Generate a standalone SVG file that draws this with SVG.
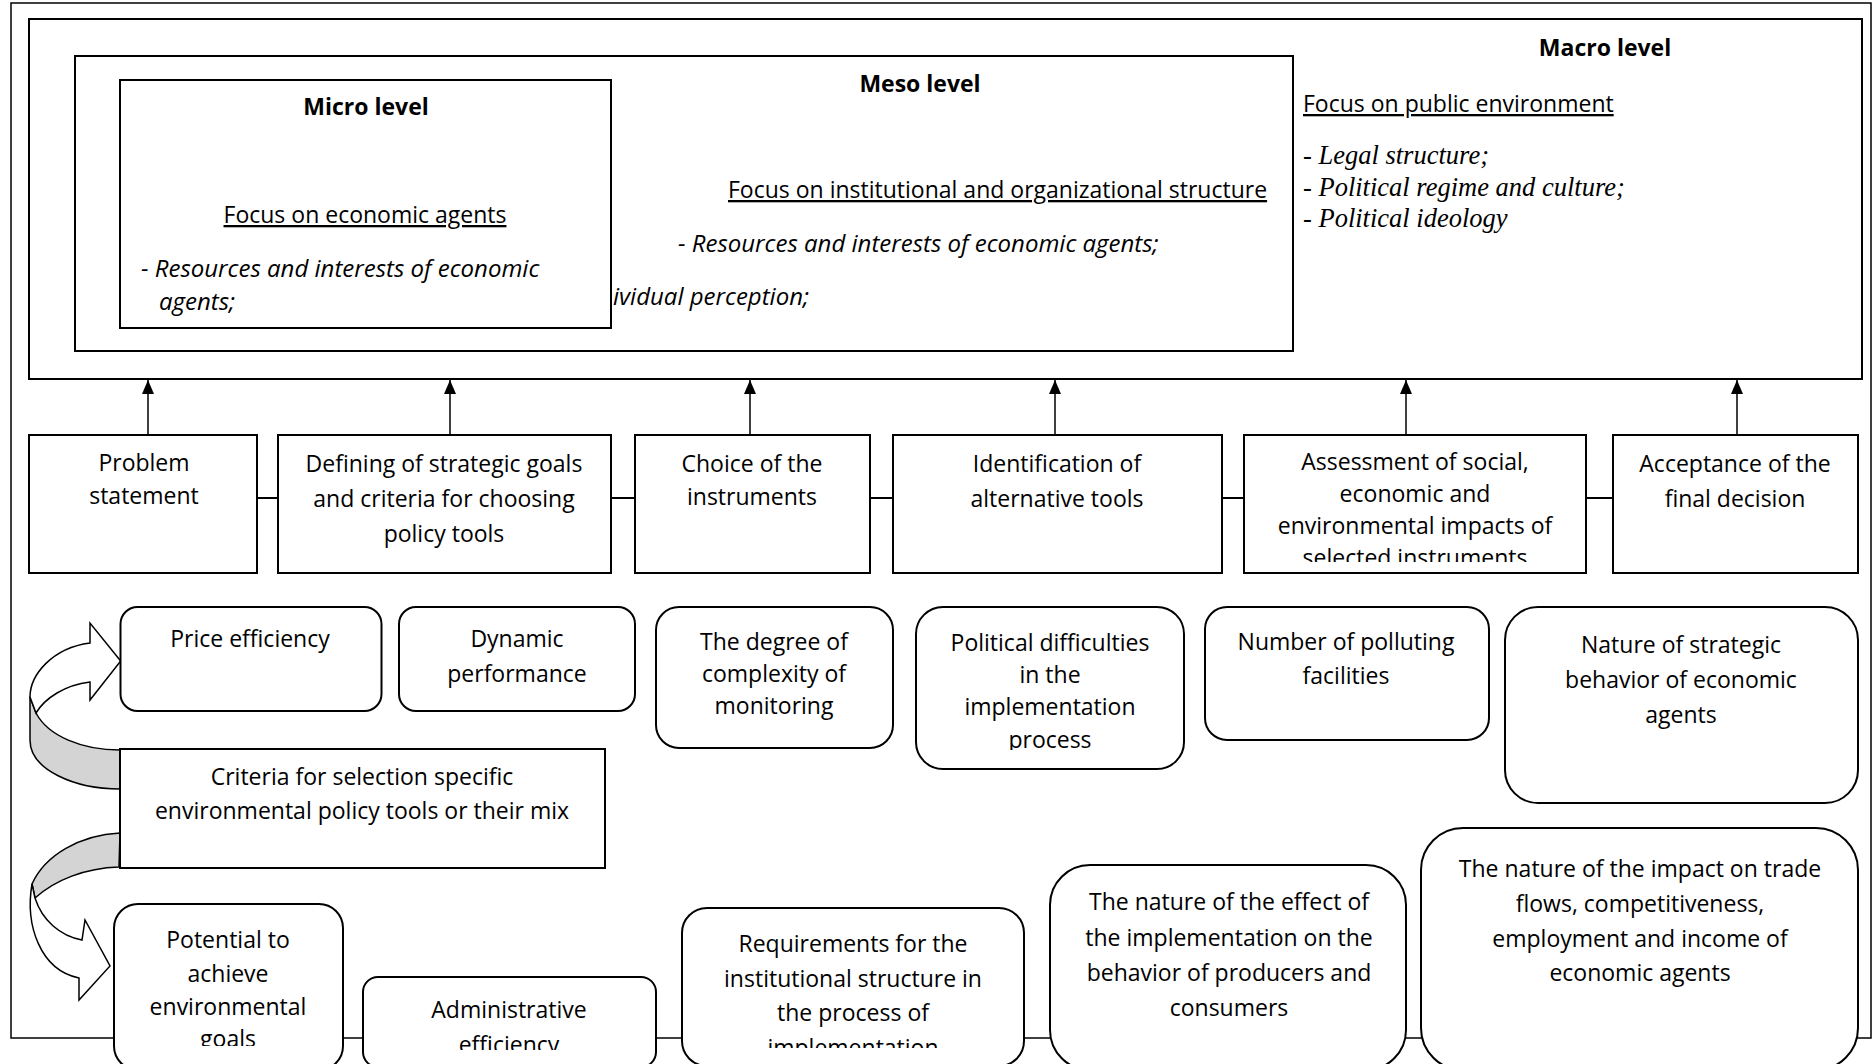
<svg xmlns="http://www.w3.org/2000/svg" width="1874" height="1064" viewBox="0 0 1874 1064">
<defs>
<style>
.frame{fill:none;stroke:#000;stroke-width:1.5}
.box{fill:#fff;stroke:#000;stroke-width:2}
.ln{stroke:#000;stroke-width:2;fill:none}
.ar{stroke:#000;stroke-width:1.5;fill:none}
.t{font-family:"Open Sans","Liberation Sans",sans-serif;font-size:23px;fill:#000;text-anchor:middle}
.l{text-anchor:start}
.b{font-weight:bold}
.i{font-style:italic;font-size:24px}
.u{text-decoration:underline}
.s{font-family:"Liberation Serif","Times New Roman",serif;font-size:26.5px;font-style:italic;fill:#000}
.back{fill:#d4d4d4;stroke:#000;stroke-width:1.5;stroke-linejoin:round}
.front{fill:#fff;stroke:#000;stroke-width:1.5;stroke-linejoin:miter}
</style>
<marker id="ah" markerUnits="userSpaceOnUse" viewBox="0 0 14 12" markerWidth="14" markerHeight="12" refX="14" refY="6" orient="auto">
<path d="M0,0 L14,6 L0,12 Z" fill="#000"/>
</marker>
<clipPath id="clip-assess"><rect x="1244" y="435" width="342" height="127"/></clipPath>
<clipPath id="clip-polit"><rect x="916" y="607" width="268" height="143"/></clipPath>
<clipPath id="clip-potential"><rect x="114" y="904" width="229" height="142"/></clipPath>
<clipPath id="clip-admin"><rect x="363" y="977" width="293" height="73"/></clipPath>
<clipPath id="clip-req"><rect x="682" y="908" width="342" height="140"/></clipPath>
</defs>

<rect width="1874" height="1064" fill="#fff"/>

<g id="outer-frame">
<rect class="frame" x="11" y="3" width="1860" height="1035"/>
</g>

<g id="macro-level">
<rect class="box" x="29" y="19" width="1833" height="360"/>
<text class="t b" x="1605" y="56">Macro level</text>
<text class="t l u" x="1303" y="112">Focus on public environment</text>
<text class="s" x="1303" y="164">- Legal structure;</text>
<text class="s" x="1303" y="196">- Political regime and culture;</text>
<text class="s" x="1303" y="227">- Political ideology</text>
</g>

<g id="meso-level">
<rect class="box" x="75" y="56" width="1218" height="295"/>
<text class="t b" x="920" y="92">Meso level</text>
<text class="t l u" x="728" y="198">Focus on institutional and organizational structure</text>
<text class="t l i" x="678" y="252">- Resources and interests of economic agents;</text>
<text class="t l i" x="613" y="305">ividual perception;</text>
</g>

<g id="micro-level">
<rect class="box" x="120" y="80" width="491" height="248"/>
<text class="t b" x="366" y="115">Micro level</text>
<text class="t u" x="365" y="223">Focus on economic agents</text>
<text class="t l i" x="141" y="277">- Resources and interests of economic</text>
<text class="t l i" x="159" y="310">agents;</text>
</g>

<g id="connectors">
<line class="ar" x1="148" y1="435" x2="148" y2="380" marker-end="url(#ah)"/>
<line class="ar" x1="450" y1="435" x2="450" y2="380" marker-end="url(#ah)"/>
<line class="ar" x1="750" y1="435" x2="750" y2="380" marker-end="url(#ah)"/>
<line class="ar" x1="1055" y1="435" x2="1055" y2="380" marker-end="url(#ah)"/>
<line class="ar" x1="1406" y1="435" x2="1406" y2="380" marker-end="url(#ah)"/>
<line class="ar" x1="1737" y1="435" x2="1737" y2="380" marker-end="url(#ah)"/>
<line class="ln" x1="257" y1="498" x2="278" y2="498"/>
<line class="ln" x1="611" y1="498" x2="635" y2="498"/>
<line class="ln" x1="870" y1="498" x2="893" y2="498"/>
<line class="ln" x1="1222" y1="498" x2="1244" y2="498"/>
<line class="ln" x1="1586" y1="498" x2="1613" y2="498"/>
<path class="back" d="M120,750 C82,750 48,736 36,713 L30,697 L30,740 C30,770 75,789 120,789 Z"/>
<path class="front" d="M30,697 C30,675 52,648 90,643 L90,623 L120.7,661 L90,700 L90,682 C65,685 45,698 36,713 Z"/>
<path class="back" d="M120,833 C80,835 45,855 32,884 L35,898 C55,880 85,868 119,867 Z"/>
<path class="front" d="M32,884 C25,925 40,970 79,978 L79,1000 L110,966 L85,920 L82,940 C60,936 42,920 35,898 Z"/>
</g>

<g id="proc-problem">
<rect class="box" x="29" y="435" width="228" height="138"/>
<text class="t" x="144" y="471">Problem</text>
<text class="t" x="144" y="504">statement</text>
</g>
<g id="proc-defining">
<rect class="box" x="278" y="435" width="333" height="138"/>
<text class="t" x="444" y="472">Defining of strategic goals</text>
<text class="t" x="444" y="507">and criteria for choosing</text>
<text class="t" x="444" y="542">policy tools</text>
</g>
<g id="proc-choice">
<rect class="box" x="635" y="435" width="235" height="138"/>
<text class="t" x="752" y="472">Choice of the</text>
<text class="t" x="752" y="505">instruments</text>
</g>
<g id="proc-identification">
<rect class="box" x="893" y="435" width="329" height="138"/>
<text class="t" x="1057" y="472">Identification of</text>
<text class="t" x="1057" y="507">alternative tools</text>
</g>
<g id="proc-assessment">
<rect class="box" x="1244" y="435" width="342" height="138"/>
<g clip-path="url(#clip-assess)">
<text class="t" x="1415" y="470">Assessment of social,</text>
<text class="t" x="1415" y="502">economic and</text>
<text class="t" x="1415" y="534">environmental impacts of</text>
<text class="t" x="1415" y="566">selected instruments</text>
</g>
</g>
<g id="proc-acceptance">
<rect class="box" x="1613" y="435" width="245" height="138"/>
<text class="t" x="1735" y="472">Acceptance of the</text>
<text class="t" x="1735" y="507">final decision</text>
</g>

<g id="crit-price">
<rect class="box" x="120.5" y="607" width="261" height="104" rx="17"/>
<text class="t" x="250" y="647">Price efficiency</text>
</g>
<g id="crit-dynamic">
<rect class="box" x="399" y="607" width="236" height="104" rx="17"/>
<text class="t" x="517" y="647">Dynamic</text>
<text class="t" x="517" y="682">performance</text>
</g>
<g id="crit-monitoring">
<rect class="box" x="656" y="607" width="237" height="141" rx="23"/>
<text class="t" x="774" y="650">The degree of</text>
<text class="t" x="774" y="682">complexity of</text>
<text class="t" x="774" y="714">monitoring</text>
</g>
<g id="crit-political">
<rect class="box" x="916" y="607" width="268" height="162" rx="27"/>
<g clip-path="url(#clip-polit)">
<text class="t" x="1050" y="651">Political difficulties</text>
<text class="t" x="1050" y="683">in the</text>
<text class="t" x="1050" y="715">implementation</text>
<text class="t" x="1050" y="748">process</text>
</g>
</g>
<g id="crit-polluting">
<rect class="box" x="1205" y="607" width="284" height="133" rx="22"/>
<text class="t" x="1346" y="650">Number of polluting</text>
<text class="t" x="1346" y="684">facilities</text>
</g>
<g id="crit-strategic">
<rect class="box" x="1505" y="607" width="353" height="196" rx="33"/>
<text class="t" x="1681" y="653">Nature of strategic</text>
<text class="t" x="1681" y="688">behavior of economic</text>
<text class="t" x="1681" y="723">agents</text>
</g>

<g id="criteria-main">
<rect class="box" x="120" y="749" width="485" height="119"/>
<text class="t" x="362" y="785">Criteria for selection specific</text>
<text class="t" x="362" y="819">environmental policy tools or their mix</text>
</g>

<g id="crit-potential">
<rect class="box" x="114" y="904" width="229" height="166" rx="24"/>
<g clip-path="url(#clip-potential)">
<text class="t" x="228" y="948">Potential to</text>
<text class="t" x="228" y="982">achieve</text>
<text class="t" x="228" y="1015">environmental</text>
<text class="t" x="228" y="1047">goals</text>
</g>
</g>
<g id="crit-admin">
<rect class="box" x="363" y="977" width="293" height="90" rx="15"/>
<g clip-path="url(#clip-admin)">
<text class="t" x="509" y="1018">Administrative</text>
<text class="t" x="509" y="1053">efficiency</text>
</g>
</g>
<g id="crit-institutional">
<rect class="box" x="682" y="908" width="342" height="158" rx="25"/>
<g clip-path="url(#clip-req)">
<text class="t" x="853" y="952">Requirements for the</text>
<text class="t" x="853" y="987">institutional structure in</text>
<text class="t" x="853" y="1021">the process of</text>
<text class="t" x="853" y="1056">implementation</text>
</g>
</g>
<g id="crit-behavior">
<rect class="box" x="1050" y="865" width="356" height="205" rx="40"/>
<text class="t" x="1229" y="910">The nature of the effect of</text>
<text class="t" x="1229" y="946">the implementation on the</text>
<text class="t" x="1229" y="981">behavior of producers and</text>
<text class="t" x="1229" y="1016">consumers</text>
</g>
<g id="crit-trade">
<rect class="box" x="1421" y="828" width="437" height="242" rx="42"/>
<text class="t" x="1640" y="877">The nature of the impact on trade</text>
<text class="t" x="1640" y="912">flows, competitiveness,</text>
<text class="t" x="1640" y="947">employment and income of</text>
<text class="t" x="1640" y="981">economic agents</text>
</g>
</svg>
